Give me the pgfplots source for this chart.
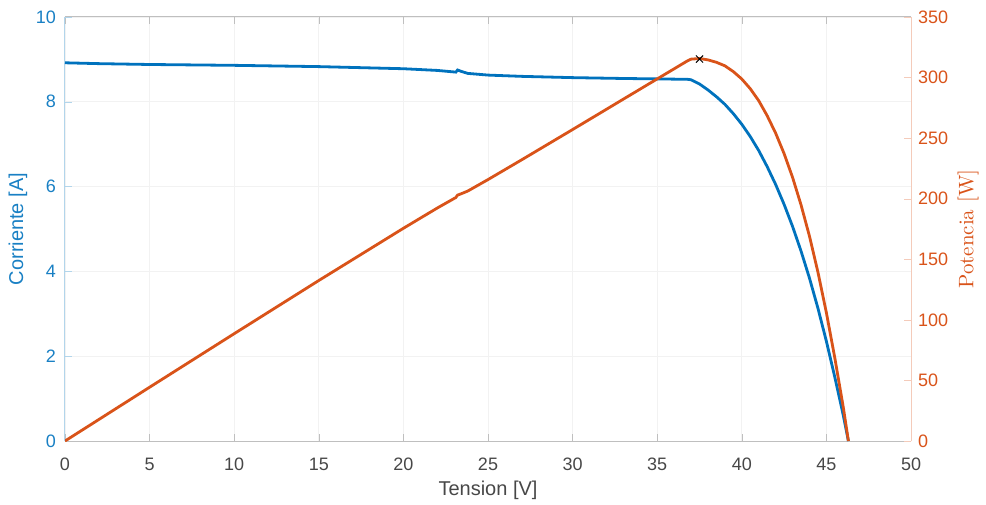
\documentclass[border=0pt]{standalone}
\usepackage{fontspec}
\usepackage{pgfplots}
\pgfplotsset{compat=1.18}
\newfontfamily\hv{Liberation Sans}
\definecolor{mblue}{RGB}{0,114,189}
\definecolor{morange}{RGB}{217,83,25}
\definecolor{mgray}{RGB}{38,38,38}
\begin{document}
\begin{tikzpicture}
\begin{axis}[
  name=ax,
  scale only axis,
  width=423pt, height=212pt,
  xmin=0, xmax=50, ymin=0, ymax=10,
  xtick={0,5,...,50}, ytick={0,2,...,10},
  axis x line=box, axis y line*=left,
  tick align=inside,
  major tick length=3.5pt,
  x axis line style={draw=black!25, line width=0.5pt},
  y axis line style={draw=mblue!30, line width=0.5pt},
  xtick style={draw=black!25},
  ytick style={draw=mblue!30},
  grid=major,
  grid style={draw=black!5, line width=0.4pt},
  /pgf/number format/assume math mode=true,
  xticklabel style={font=\hv\fontsize{9}{10}\selectfont, text=mgray!85, yshift=-5pt},
  yticklabel style={font=\hv\fontsize{9}{10}\selectfont, text=mblue!90, xshift=-1pt},
  xlabel={Tension [V]},
  ylabel={Corriente [A]},
  xlabel style={font=\hv\fontsize{10}{12}\selectfont, text=mgray!85, at={(axis description cs:0.5,-0.1156)}, anchor=center},
  ylabel style={font=\hv\fontsize{10}{12}\selectfont, text=mblue!90, at={(axis description cs:-0.0556,0.5)}, anchor=center},
]
\addplot[mblue, line width=1.4pt] coordinates {
(0,8.92) (2,8.90) (5,8.88) (10,8.86) (15,8.83) (18,8.80) (20,8.78) (22,8.74)
(23.1,8.70) (23.2,8.75) (23.4,8.72) (23.8,8.67) (25,8.63) (27,8.60) (30,8.57)
(33,8.55) (35,8.54) (36.8,8.53) (37.0,8.52) (37.5,8.42) (38.0,8.28) (38.5,8.12)
(39.0,7.94) (39.5,7.72) (40.0,7.47) (40.5,7.18) (41.0,6.85) (41.5,6.47)
(42.0,6.05) (42.5,5.58) (43.0,5.06) (43.5,4.48) (44.0,3.84) (44.5,3.13)
(45.0,2.35) (45.5,1.50) (46.0,0.60) (46.3,0)
};
\end{axis}
\begin{axis}[
  scale only axis,
  width=423pt, height=212pt,
  xmin=0, xmax=50, ymin=0, ymax=350,
  ytick={0,50,...,350},
  axis x line=none, axis y line*=right,
  tick align=inside,
  major tick length=3.5pt,
  y axis line style={draw=morange!30, line width=0.5pt},
  ytick style={draw=morange!30},
  /pgf/number format/assume math mode=true,
  yticklabel style={font=\hv\fontsize{9}{10}\selectfont, text=morange},
  ylabel={Potencia [W]},
  ylabel style={font=\fontsize{10.5}{12}\selectfont, text=morange, at={(axis description cs:1.0674,0.5)}, anchor=center, rotate=0},
]
\addplot[morange, line width=1.4pt] coordinates {
(0,0) (5,44.4) (10,88.6) (15,132.5) (20,175.6) (22,192.3) (23.1,201.0)
(23.2,203.0) (23.4,204.0) (23.8,206.3) (25,215.8) (27,232.2) (30,257.1)
(33,282.2) (35,298.9) (36.8,313.9) (37.0,315.2) (37.5,315.75) (38.0,314.6)
(38.5,312.6) (39.0,309.7) (39.5,304.9) (40.0,298.8) (40.5,290.8) (41.0,280.9)
(41.5,268.5) (42.0,254.1) (42.5,237.2) (43.0,217.6) (43.5,194.9) (44.0,169.0)
(44.5,139.3) (45.0,105.8) (45.5,68.3) (46.0,27.6) (46.3,0)
};
\addplot[black, only marks, mark=x, mark size=2.5pt, line width=0.5pt] coordinates {(37.5,315.3)};
\end{axis}
\pgfresetboundingbox
\path ([shift={(-32.5pt,-31.5pt)}]ax.south west) rectangle ([shift={(37.5pt,8.5pt)}]ax.north east);
\end{tikzpicture}
\end{document}
